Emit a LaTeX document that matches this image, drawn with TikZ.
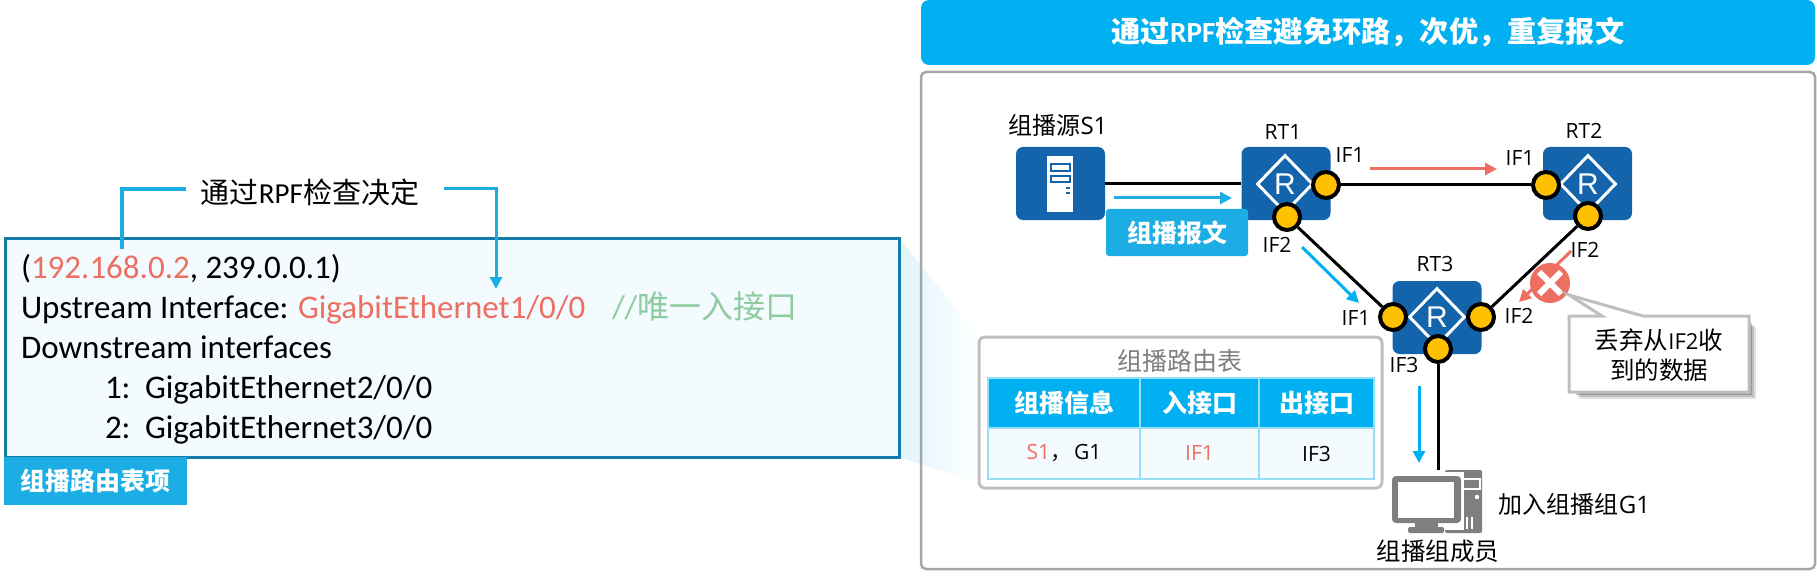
\documentclass[tikz,border=0pt]{standalone}
\usepackage{fontspec}
\setmainfont{Carlito}
\newfontfamily\cjk{Noto Sans CJK SC}
\newfontfamily\osans{Open Sans}
\newfontfamily\lsans{Liberation Sans}
\usetikzlibrary{arrows.meta,shapes.geometric}
\definecolor{barblue}{HTML}{00B0F0}
\definecolor{labblue}{HTML}{1CADE4}
\definecolor{cellline}{HTML}{99DDF8}
\definecolor{lightfill}{HTML}{F3FBFF}
\definecolor{boxline}{HTML}{127DA8}
\definecolor{routerblue}{HTML}{1464AC}
\definecolor{portyellow}{HTML}{FFC000}
\definecolor{redtxt}{HTML}{EC6F61}
\definecolor{greentxt}{HTML}{8FCBA0}
\definecolor{framegrey}{HTML}{A6A6A6}
\definecolor{panelgrey}{HTML}{BFBFBF}
\definecolor{pcgrey}{HTML}{7F7F7F}
\newcommand{\fz}[1]{\fontsize{#1}{#1}\selectfont}
\tikzset{
 txt/.style={inner sep=0pt,outer sep=0pt,text=black},
 devbox/.style={rectangle,rounded corners=7pt,fill=routerblue,minimum width=89pt,minimum height=73pt,inner sep=0pt},
 rdiamond/.style={diamond,aspect=0.95,draw=white,line width=3pt,minimum width=56pt,minimum height=58pt,inner sep=0pt,text=white,font=\lsans\fz{30}},
 port/.style={circle,draw=black,fill=portyellow,line width=4pt,minimum size=26pt,inner sep=0pt},
 iflab/.style={txt,font=\osans\fz{21}},
 link/.style={draw=black,line width=3pt},
 bluearrow/.style={draw=labblue,line width=3pt,-{Triangle[length=12pt,width=12pt]}},
 redarrow/.style={draw=redtxt,line width=3pt,-{Triangle[length=12pt,width=12pt]}},
 headcell/.style={rectangle,draw=cellline,line width=2pt,fill=barblue,text=white,inner sep=0pt,font=\cjk\bfseries\fz{25}},
 datacell/.style={rectangle,draw=cellline,line width=2pt,fill=lightfill,inner sep=0pt,font=\osans\fz{21}},
 listline/.style={txt,anchor=base west,font=\fz{33}},
}
\begin{document}
\begin{tikzpicture}[x=1pt,y=-1pt]
\useasboundingbox (0,0) rectangle (1817,580);
% trapezoid
\shade[left color=cellline!30,right color=white] (899,238) -- (979,337) -- (979,483) -- (899,457) -- cycle;
% title and frame
\node[rectangle,rounded corners=8pt,fill=barblue,minimum width=894pt,minimum height=65pt,inner sep=0pt,text=white,font=\cjk\bfseries\fz{29.2}] (title) at (1368,32.5) {通过{\fontspec{Carlito}[BoldFont=Carlito Bold]\bfseries RPF}检查避免环路，次优，重复报文};
\draw[framegrey,line width=2.5pt,rounded corners=5pt] (921,72) rectangle (1815,569);
% left box
\node[rectangle,draw=boxline,fill=lightfill,line width=3pt,minimum width=894pt,minimum height=219pt,inner sep=0pt] (entry) at (452,347.5) {};
\node[rectangle,fill=labblue,minimum width=183pt,minimum height=48pt,inner sep=0pt,text=white,font=\cjk\bfseries\fz{25}] (entrylab) at (95.5,481) {组播路由表项};
\node[listline] (l1) at (21,278) {(\textcolor{redtxt}{192.168.0.2}, 239.0.0.1)};
\node[listline] (l2) at (21,318) {Upstream Interface:};
\node[listline,text=redtxt] (l2b) at (298,318) {GigabitEthernet1/0/0};
\node[listline,text=greentxt] (l2c) at (612,318) {//{\cjk\fz{32}唯一入接口}};
\node[listline] (l3) at (21,358) {Downstream interfaces};
\node[listline] (l4a) at (105,398) {1:};
\node[listline] (l4b) at (145,398) {GigabitEthernet2/0/0};
\node[listline] (l5a) at (105,438) {2:};
\node[listline] (l5b) at (145,438) {GigabitEthernet3/0/0};
% bracket
\node[txt,font=\cjk\fz{29}] (rpfnote) at (310,192) {通过{\fontspec{Carlito}RPF}检查决定};
\coordinate (bl) at (122,249);
\coordinate (blt) at (186,189);
\coordinate (brt) at (444,189);
\coordinate (bre) at (496,289);
\draw[labblue,line width=3.5pt] (bl) |- (blt);
\draw[labblue,line width=3pt,-{Triangle[length=12pt,width=12pt]}] (brt) -| (bre);
% source
\node[devbox] (src) at (1060.5,183.5) {};
\fill[white] (1047,156) rectangle (1073,212);
\draw[routerblue,line width=1.5pt,fill=white] (1051,164) rectangle (1070,171);
\draw[routerblue,line width=1.5pt,fill=white] (1051,176) rectangle (1070,182);
\fill[routerblue] (1066,187) rectangle (1070,189.5);
\fill[routerblue] (1066,192) rectangle (1070,194.5);
\node[txt,font=\cjk\fz{24}] (srclab) at (1058,125) {组播源{\osans S1}};
% routers
\node[devbox] (rt1) at (1286,183.5) {};
\node[devbox] (rt2) at (1587.5,183.5) {};
\node[devbox] (rt3) at (1437,317.5) {};
\node[rdiamond] (d1) at (1285,184) {R};
\node[rdiamond] (d2) at (1588,184) {R};
\node[rdiamond] (d3) at (1437,317) {R};
\node[port] (r1a) at (1326,185) {};
\node[port] (r1b) at (1287,217) {};
\node[port] (r2a) at (1546,185) {};
\node[port] (r2b) at (1588,216) {};
\node[port] (r3a) at (1393,317) {};
\node[port] (r3b) at (1481,317) {};
\node[port] (r3c) at (1438,349) {};
\node[iflab] (nrt1) at (1283,132) {RT1};
\node[iflab] (nrt2) at (1584,131) {RT2};
\node[iflab] (nrt3) at (1435,264) {RT3};
\node[iflab] (i1) at (1350,155) {IF1};
\node[iflab] (i2) at (1520,158) {IF1};
\node[iflab] (i3) at (1277,245) {IF2};
\node[iflab] (i4) at (1356,318) {IF1};
\node[iflab] (i5) at (1519,316) {IF2};
\node[iflab] (i6) at (1404,365) {IF3};
\node[iflab] (i7) at (1585,250) {IF2};
% PC
\node[rectangle,inner sep=0pt,minimum width=90pt,minimum height=63pt] (pc) at (1437,501.5) {};
\fill[pcgrey,rounded corners=2pt] (1445,470) rectangle (1482,533);
\draw[white,line width=1.2pt,fill=pcgrey] (1461,479) rectangle (1480,489);
\fill[white] (1477,497) circle (2.2pt);
\foreach \vx in {1455,1459,1463,1467,1472} \draw[white,line width=1.3pt] (\vx,517) -- (\vx,529);
\fill[white] (1388,472) rectangle (1464,530);
\fill[pcgrey,rounded corners=4pt] (1392,476) rectangle (1461,523);
\fill[white] (1398,482) rectangle (1454,518);
\fill[pcgrey] (1415,523) rectangle (1438,527);
\fill[pcgrey,rounded corners=1.5pt] (1408,527) rectangle (1444,533);
\node[txt,font=\cjk\fz{24}] (joinlab) at (1574.5,504) {加入组播组{\osans G1}};
\node[txt,font=\cjk\fz{24.5}] (pclab) at (1438,551) {组播组成员};
% links
\draw[link] (src.east) -- (rt1.west);
\draw[link] (r1a) -- (r2a);
\draw[link] (r1b) -- (r3a);
\draw[link] (r2b) -- (r3b);
\draw[link] (r3c) -- (r3c |- pc.north);
% flow arrows
\coordinate (fa1) at (1114,198); \coordinate (fa2) at (1232,198);
\draw[bluearrow] (fa1) -- (fa2);
\coordinate (fb1) at (1370,169); \coordinate (fb2) at (1497,169);
\draw[redarrow] (fb1) -- (fb2);
\coordinate (fc1) at (1302,247); \coordinate (fc2) at (1359,303);
\draw[bluearrow,draw=barblue] (fc1) -- (fc2);
\coordinate (fd1) at (1571,251); \coordinate (fd2) at (1519,302);
\draw[redarrow] (fd1) -- (fd2);
\coordinate (fe1) at (1419,386); \coordinate (fe2) at (1419,463);
\draw[bluearrow,draw=barblue] (fe1) -- (fe2);
% packet label
\node[rectangle,rounded corners=3pt,fill=labblue,minimum width=142pt,minimum height=47pt,inner sep=0pt,text=white,font=\cjk\bfseries\fz{25}] (pkt) at (1177,232.5) {组播报文};
% drop mark
\node[circle,fill=redtxt,minimum size=40pt,inner sep=0pt] (xm) at (1550,283) {};
\draw[white,line width=6pt] (1539,272) -- (1561,294);
\draw[white,line width=6pt] (1561,272) -- (1539,294);
% callout
\foreach \sh/\op in {11/0.12,9/0.15,7/0.2,5/0.25} \fill[black,opacity=\op] (1569+\sh,316+\sh) rectangle (1749+\sh-4,392+\sh-4);
\draw[panelgrey,line width=3pt,fill=white] (1569,316) -- (1602,316) -- (1569,295) -- (1643,316) -- (1749,316) -- (1749,392) -- (1569,392) -- cycle;
\node[txt,font=\cjk\fz{24.5},align=center] (drop) at (1659,355) {丢弃从{\osans\fz{22}IF2}收\\[6pt]到的数据};
% table panel
\draw[panelgrey,line width=3pt,rounded corners=6pt,fill=white] (979,337) rectangle (1382,488);
\node[txt,text=pcgrey,font=\cjk\fz{25}] (tabt) at (1180,361) {组播路由表};
\node[headcell,minimum width=152pt,minimum height=50pt] (h1) at (1064,403) {组播信息};
\node[headcell,minimum width=119pt,minimum height=50pt] (h2) at (1199.5,403) {入接口};
\node[headcell,minimum width=115pt,minimum height=50pt] (h3) at (1316.5,403) {出接口};
\node[datacell,minimum width=152pt,minimum height=51pt] (c1) at (1064,453.5) {\textcolor{redtxt}{S1}{\cjk，}\hspace{3pt}G1};
\node[datacell,minimum width=119pt,minimum height=51pt,text=redtxt] (c2) at (1199.5,453.5) {IF1};
\node[datacell,minimum width=115pt,minimum height=51pt] (c3) at (1316.5,453.5) {IF3};
\end{tikzpicture}
\end{document}
